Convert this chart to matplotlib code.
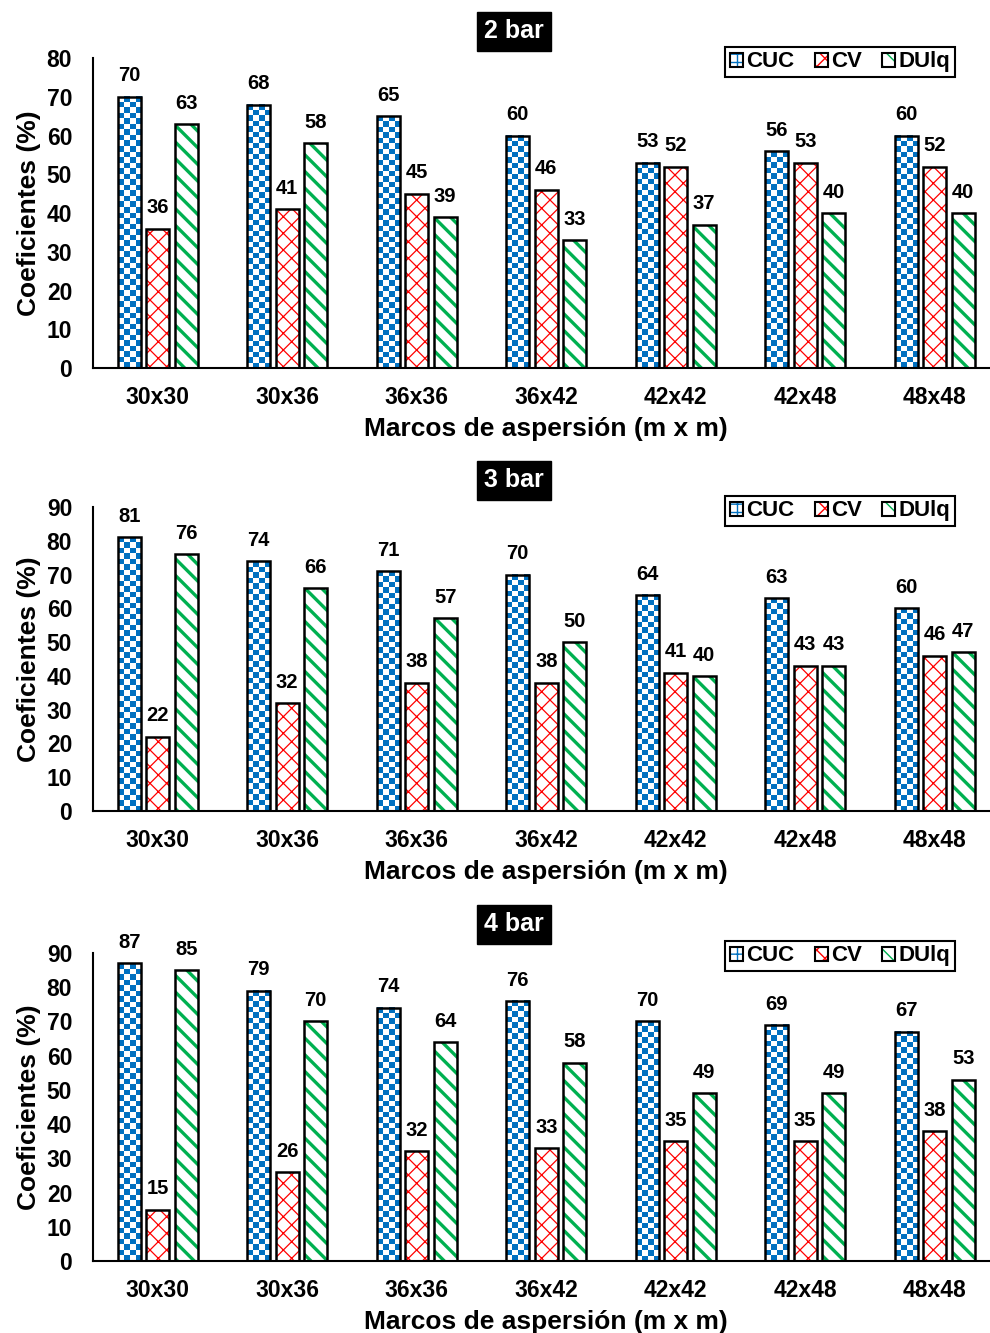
import numpy as np
import matplotlib
matplotlib.use("Agg")
import matplotlib.pyplot as plt
from matplotlib.colors import ListedColormap
from matplotlib.patches import Patch
from matplotlib.legend_handler import HandlerTuple

plt.rcParams['font.family'] = ['Liberation Sans', 'DejaVu Sans']
plt.rcParams['font.weight'] = 'bold'

# Sprinkler spacings and uniformity coefficients (%) at each pressure
marcos = ['30x30', '30x36', '36x36', '36x42', '42x42', '42x48', '48x48']
series_names = ['CUC', 'CV', 'DUlq']
presiones = ['2 bar', '3 bar', '4 bar']

cuc_2 = [70, 68, 65, 60, 53, 56, 60]
cv_2 = [36, 41, 45, 46, 52, 53, 52]
du_2 = [63, 58, 39, 33, 37, 40, 40]

cuc_3 = [81, 74, 71, 70, 64, 63, 60]
cv_3 = [22, 32, 38, 38, 41, 43, 46]
du_3 = [76, 66, 57, 50, 40, 43, 47]

cuc_4 = [87, 79, 74, 76, 70, 69, 67]
cv_4 = [15, 26, 32, 33, 35, 35, 38]
du_4 = [85, 70, 64, 58, 49, 49, 53]

ymax = [80, 90, 90]

BLUE = '#0070C0'
RED = '#FF0000'
GREEN = '#00B050'

W, H = 990, 1333
fig = plt.figure(figsize=(W / 100, H / 100), dpi=100)

# panel geometry in pixels: (top of y range, zero line, title centre, legend top)
panels = [
    (58, 368, 31, 47),
    (507, 811, 480, 496),
    (953, 1261, 924, 941),
]
left_px = 93
group_px = 129.5
ax_w_px = group_px * len(marcos)

offsets = [-0.22, 0.0, 0.22]
bar_w = 0.178
checker_cmap = ListedColormap(['white', BLUE])


def checker_bar(ax, xc, h, sq_px=5.5):
    x0, x1 = xc - bar_w / 2, xc + bar_w / 2
    p0 = ax.transData.transform((x0, 0))
    p1 = ax.transData.transform((x1, h))
    ncols = max(1, int(round((p1[0] - p0[0]) / sq_px)))
    nrows = max(1, int(round((p1[1] - p0[1]) / sq_px)))
    ii, jj = np.indices((nrows, ncols))
    arr = (ii + jj) % 2
    ax.imshow(arr, extent=(x0, x1, 0, h), origin='lower', cmap=checker_cmap,
              interpolation='nearest', aspect='auto', zorder=2, vmin=0, vmax=1)


data = [(cuc_2, cv_2, du_2), (cuc_3, cv_3, du_3), (cuc_4, cv_4, du_4)]
idx = np.arange(len(marcos))

for p, (top_px, zero_px, title_px, leg_px) in enumerate(panels):
    ax = fig.add_axes([left_px / W, 1 - zero_px / H, ax_w_px / W,
                       (zero_px - top_px) / H])
    ax.set_xlim(-0.5, len(marcos) - 0.5)
    ax.set_ylim(0, ymax[p])
    cuc, cv, du = data[p]

    # CUC: checkerboard texture
    for xc, v in zip(idx + offsets[0], cuc):
        checker_bar(ax, xc, v)
    # CV: red cross hatch
    b = ax.bar(idx + offsets[1], cv, bar_w, color='white', edgecolor=RED,
               linewidth=0, hatch='xx', zorder=2)
    for r in b:
        if hasattr(r, 'set_hatch_linewidth'):
            r.set_hatch_linewidth(0.9)
    # DUlq: green diagonal stripes
    b = ax.bar(idx + offsets[2], du, bar_w, color='white', edgecolor=GREEN,
               linewidth=0, hatch='\\\\', zorder=2)
    for r in b:
        if hasattr(r, 'set_hatch_linewidth'):
            r.set_hatch_linewidth(2.4)

    for k, vals in enumerate((cuc, cv, du)):
        ax.bar(idx + offsets[k], vals, bar_w, facecolor='none',
               edgecolor='black', linewidth=1.8, zorder=3)
        for xc, v in zip(idx + offsets[k], vals):
            ax.annotate(f'{v}', (xc, v), xytext=(0, 11),
                        textcoords='offset points', ha='center',
                        va='baseline', fontsize=14.5, fontweight='bold')

    ax.set_xlim(-0.5, len(marcos) - 0.5)
    ax.set_ylim(0, ymax[p])
    ax.set_yticks(np.arange(0, ymax[p] + 1, 10))
    ax.set_xticks(idx)
    ax.set_xticklabels(marcos)
    ax.tick_params(axis='both', length=0, labelsize=16.5)
    ax.tick_params(axis='y', pad=15)
    ax.tick_params(axis='x', pad=13)
    for t in ax.get_xticklabels() + ax.get_yticklabels():
        t.set_fontweight('bold')
    for s in ('top', 'right'):
        ax.spines[s].set_visible(False)
    for s in ('left', 'bottom'):
        ax.spines[s].set_linewidth(1.5)
    ax.set_ylabel('Coeficientes (%)', fontsize=19, fontweight='bold',
                  labelpad=4)
    ax.set_xlabel('Marcos de aspersión (m x m)', fontsize=19,
                  fontweight='bold', labelpad=6)

    fig.text(514 / W, 1 - title_px / H, presiones[p], ha='center',
             va='center', color='white', fontsize=18, fontweight='bold',
             bbox=dict(boxstyle='square,pad=0.3', facecolor='black',
                       edgecolor='black'))

    h_cuc = (Patch(facecolor='white', edgecolor=BLUE, hatch='++', linewidth=0),
             Patch(facecolor='none', edgecolor='black', linewidth=1.5))
    h_cv = (Patch(facecolor='white', edgecolor=RED, hatch='xx', linewidth=0),
            Patch(facecolor='none', edgecolor='black', linewidth=1.5))
    h_du = (Patch(facecolor='white', edgecolor=GREEN, hatch='\\\\', linewidth=0),
            Patch(facecolor='none', edgecolor='black', linewidth=1.5))
    leg = ax.legend(handles=[h_cuc, h_cv, h_du], labels=series_names,
                    handler_map={tuple: HandlerTuple(ndivide=1, pad=0)},
                    ncol=3, loc='upper right',
                    bbox_to_anchor=(955 / W, 1 - leg_px / H),
                    bbox_transform=fig.transFigure, frameon=True,
                    fancybox=False, edgecolor='black', framealpha=1,
                    borderpad=0.2, handlelength=0.6, handleheight=0.6,
                    handletextpad=0.15, columnspacing=0.9, borderaxespad=0,
                    prop=dict(weight='bold', size=16))
    leg.get_frame().set_linewidth(1.5)

fig.savefig('out.png', dpi=100)
